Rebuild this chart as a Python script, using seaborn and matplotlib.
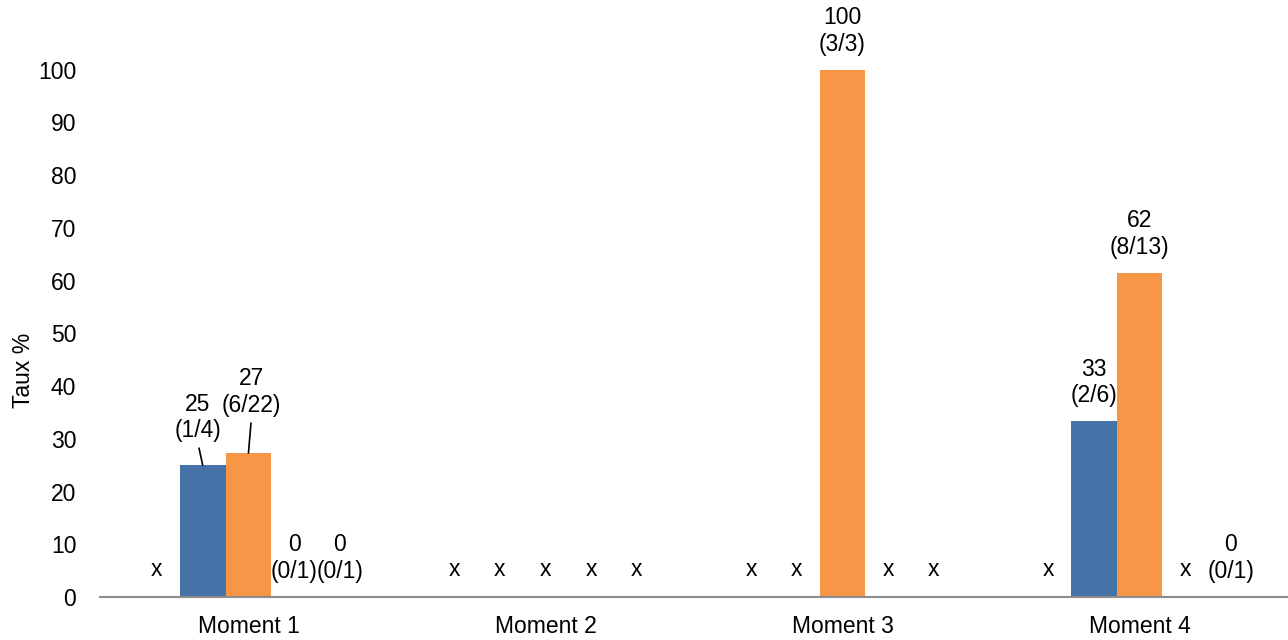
import matplotlib
matplotlib.use("Agg")
import matplotlib.pyplot as plt
import numpy as np
import pandas as pd
import seaborn as sns

# --- Data ---
moments = ["Moment 1", "Moment 2", "Moment 3", "Moment 4"]
series = ["Série 1", "Série 2", "Série 3", "Série 4", "Série 5"]
colors = ["#A5A5A5", "#4572A7", "#F79646", "#A5A5A5", "#FFC000"]

# rate (%) per series, NaN = no data ("x")
serie1 = [np.nan, np.nan, np.nan, np.nan]
serie2 = [25.0, np.nan, np.nan, 33.3]
serie3 = [27.3, np.nan, 100.0, 61.5]
serie4 = [0.0, np.nan, np.nan, np.nan]
serie5 = [0.0, np.nan, np.nan, 0.0]

# counts shown under the rate
frac1 = [None, None, None, None]
frac2 = ["1/4", None, None, "2/6"]
frac3 = ["6/22", None, "3/3", "8/13"]
frac4 = ["0/1", None, None, None]
frac5 = ["0/1", None, None, "0/1"]

values = [serie1, serie2, serie3, serie4, serie5]
fracs = [frac1, frac2, frac3, frac4, frac5]

rows = []
for s, vals in zip(series, values):
    for m, v in zip(moments, vals):
        rows.append({"Moment": m, "Série": s, "Taux": v})
df = pd.DataFrame(rows)

# --- Plot ---
sns.set_theme(style="white")
plt.rcParams["font.family"] = ["Liberation Sans", "DejaVu Sans"]
fs = 16.5

fig = plt.figure(figsize=(12.88, 6.4), dpi=100)
ax = fig.add_axes([0.0776, 0.0672, 0.9224, 0.9063])

group_width = 0.77
sns.barplot(
    data=df.dropna(), x="Moment", y="Taux", hue="Série",
    order=moments, hue_order=series, palette=colors,
    width=group_width, dodge=True, ax=ax, legend=False,
    saturation=1, linewidth=0,
)

slot = group_width / len(series)
ax.set_xlim(-0.5, 3.5)
ax.set_ylim(0, 110)
ax.set_yticks(range(0, 101, 10))
ax.tick_params(axis="y", length=0, pad=17, labelsize=fs, colors="black")
ax.tick_params(axis="x", length=0, pad=13, labelsize=fs, colors="black")
ax.set_xlabel("")
ax.set_ylabel("Taux %", fontsize=fs, color="black")
ax.yaxis.set_label_coords(-0.055, 0.39)

for side in ["top", "right", "left"]:
    ax.spines[side].set_visible(False)
ax.spines["bottom"].set_color("#8C8C8C")
ax.spines["bottom"].set_linewidth(1.5)

# special label offsets (pixels) with leader lines for Moment 1
leader = {(1, 0): (-5, 23), (2, 0): (3, 36)}

for si, (vals, fr) in enumerate(zip(values, fracs)):
    for mi, v in enumerate(vals):
        xpos = mi + (si - (len(series) - 1) / 2) * slot
        if np.isnan(v):
            ax.annotate("x", xy=(xpos, 0), xytext=(0, 16),
                        textcoords="offset pixels", ha="center", va="bottom",
                        fontsize=fs, color="black")
            continue
        label = f"{v:.0f}\n({fr[mi]})"
        if (si, mi) in leader:
            dx, dy = leader[(si, mi)]
            ax.annotate(label, xy=(xpos, v), xytext=(dx, dy),
                        textcoords="offset pixels", ha="center", va="bottom",
                        fontsize=fs, color="black", linespacing=1.2,
                        arrowprops=dict(arrowstyle="-", color="black", lw=1.2,
                                        relpos=(0.5, 0), shrinkA=2, shrinkB=0))
        else:
            ax.annotate(label, xy=(xpos, v), xytext=(0, 14),
                        textcoords="offset pixels", ha="center", va="bottom",
                        fontsize=fs, color="black", linespacing=1.2,
                        annotation_clip=False)

fig.savefig("out.png", dpi=100)
